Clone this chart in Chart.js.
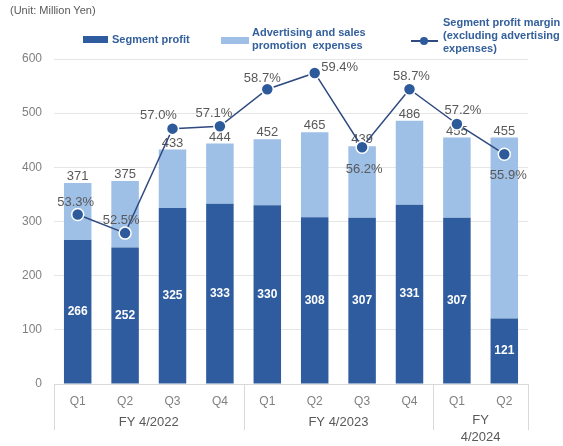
<!DOCTYPE html>
<html>
<head>
<meta charset="utf-8">
<script src="https://cdn.jsdelivr.net/npm/chart.js@4.4.1/dist/chart.umd.min.js"></script>
<style>
  body { margin: 0; background: #fff; font-family: "Liberation Sans", Arial, sans-serif; }
  #wrap { position: relative; width: 563px; height: 446px; }
  #unit { position: absolute; left: 10px; top: 4px; font-size: 11px; color: #595959; }
  .lg { position: absolute; font-size: 11px; font-weight: bold; color: #34609c; line-height: 13px; white-space: nowrap; }
  .sw { position: absolute; }
</style>
</head>
<body>
<div id="wrap">
  <canvas id="segChart" width="563" height="446"></canvas>
  <div id="unit">(Unit: Million Yen)</div>
  <div class="sw" style="left:83px;top:36px;width:25px;height:7px;background:#2e5c9e"></div>
  <div class="lg" style="left:112px;top:33px">Segment profit</div>
  <div class="sw" style="left:221px;top:37px;width:28px;height:7px;background:#9ebfe6"></div>
  <div class="lg" style="left:252px;top:26px">Advertising and sales<br>promotion&nbsp; expenses</div>
  <div class="sw" style="left:411px;top:40px;width:27px;height:2px;background:#2f4a80"></div>
  <div class="sw" style="left:420px;top:37px;width:8px;height:8px;border-radius:50%;background:#2d5a9a"></div>
  <div class="lg" style="left:443px;top:16px">Segment profit margin<br>(excluding advertising<br>expenses)</div>
</div>
<script>
// Quarterly figures, million yen
var quarters = ['Q1', 'Q2', 'Q3', 'Q4', 'Q1', 'Q2', 'Q3', 'Q4', 'Q1', 'Q2'];
var fiscalYears = [['FY 4/2022'], ['FY 4/2023'], ['FY', '4/2024']];
var yearSpans = [4, 4, 2];
var segmentProfit = [266, 252, 325, 333, 330, 308, 307, 331, 307, 121];
var advertising = [105, 123, 108, 111, 122, 157, 132, 155, 148, 334];
var profitMargin = [53.3, 52.5, 57.0, 57.1, 58.7, 59.4, 56.2, 58.7, 57.2, 55.9];

// where each margin label sits relative to its point
var marginLabelOffset = [[-2, -12], [-4, -13], [-14, -13], [-6, -13], [-5, -11],
                         [25, -6], [2, 22], [2, -13], [6, -14], [4, 21]];

var FONT = '"Liberation Sans", Arial, sans-serif';

var valueLabels = {
    id: 'valueLabels',
    afterDatasetDraw: function (chart, args) {
        var ctx = chart.ctx;
        ctx.save();
        if (args.index === 1) {
            // totals above each stacked bar
            ctx.font = '13px ' + FONT;
            ctx.fillStyle = '#595959';
            ctx.textAlign = 'center';
            ctx.textBaseline = 'bottom';
            args.meta.data.forEach(function (bar, i) {
                ctx.fillText(String(segmentProfit[i] + advertising[i]), bar.x, bar.y);
            });
        }
        if (args.index === 0) {
            ctx.font = 'bold 12px ' + FONT;
            ctx.fillStyle = '#ffffff';
            ctx.textAlign = 'center';
            ctx.textBaseline = 'middle';
            args.meta.data.forEach(function (bar, i) {
                ctx.fillText(String(segmentProfit[i]), bar.x, (bar.y + bar.base) / 2);
            });
        }
        ctx.restore();
    },
    afterDatasetsDraw: function (chart) {
        var ctx = chart.ctx;
        var pts = chart.getDatasetMeta(2).data;
        ctx.save();
        ctx.font = '13px ' + FONT;
        ctx.fillStyle = '#595959';
        ctx.textAlign = 'center';
        ctx.textBaseline = 'middle';
        pts.forEach(function (p, i) {
            var off = marginLabelOffset[i];
            ctx.fillText(profitMargin[i].toFixed(1) + '%', p.x + off[0], p.y + off[1]);
        });
        ctx.restore();
    }
};

// fiscal year groups under the quarter labels
var yearGroups = {
    id: 'yearGroups',
    afterDraw: function (chart) {
        var ctx = chart.ctx;
        var x = chart.scales.x;
        var top = chart.chartArea.bottom;
        var half = (x.getPixelForValue(1) - x.getPixelForValue(0)) / 2;
        ctx.save();
        ctx.strokeStyle = '#d9d9d9';
        ctx.lineWidth = 1;
        ctx.font = '13px ' + FONT;
        ctx.fillStyle = '#595959';
        ctx.textAlign = 'center';
        ctx.textBaseline = 'middle';
        var start = 0;
        yearSpans.forEach(function (span, g) {
            var left = x.getPixelForValue(start) - half;
            var right = x.getPixelForValue(start + span - 1) + half;
            [left, right].forEach(function (px) {
                px = Math.round(px) + 0.5;
                ctx.beginPath();
                ctx.moveTo(px, top);
                ctx.lineTo(px, top + 46);
                ctx.stroke();
            });
            var lines = fiscalYears[g];
            var y0 = lines.length > 1 ? top + 36 : top + 38;
            lines.forEach(function (t, k) {
                ctx.fillText(t, (left + right) / 2, y0 + k * 17);
            });
            start += span;
        });
        ctx.restore();
    }
};

var ctx = document.getElementById('segChart').getContext('2d');
var segChart = new Chart(ctx, {
    type: 'bar',
    data: {
        labels: quarters,
        datasets: [{
            label: 'Segment profit',
            data: segmentProfit,
            backgroundColor: '#2e5c9e',
            order: 1
        }, {
            label: 'Advertising and sales promotion expenses',
            data: advertising,
            backgroundColor: '#9ebfe6',
            order: 2
        }, {
            type: 'line',
            label: 'Segment profit margin (excluding advertising expenses)',
            data: profitMargin,
            yAxisID: 'y1',
            borderColor: '#2f4a80',
            borderWidth: 1.5,
            tension: 0,
            pointRadius: 6,
            pointBackgroundColor: '#2d5a9a',
            pointBorderColor: '#ffffff',
            pointBorderWidth: 1.5,
            order: 0
        }]
    },
    options: {
        responsive: false,
        animation: false,
        layout: { padding: { top: 59, right: 35, left: 0, bottom: 0 } },
        plugins: {
            legend: { display: false },
            tooltip: { enabled: false }
        },
        datasets: {
            bar: { categoryPercentage: 1, barPercentage: 0.58 }
        },
        scales: {
            x: {
                stacked: true,
                grid: { display: false, drawTicks: false },
                border: { display: true, color: '#d9d9d9' },
                ticks: { color: '#808080', font: { size: 12, family: FONT }, padding: 10 },
                afterFit: function (s) { s.height = 62; }
            },
            y: {
                stacked: true,
                min: 0,
                max: 600,
                ticks: { stepSize: 100, color: '#808080', font: { size: 12, family: FONT }, padding: 12 },
                grid: { color: '#e6e6e6', drawTicks: false },
                border: { display: false },
                afterFit: function (s) { s.width = 54; }
            },
            y1: {
                display: false,
                position: 'right',
                min: 46,
                max: 60
            }
        }
    },
    plugins: [valueLabels, yearGroups]
});
</script>
</body>
</html>
